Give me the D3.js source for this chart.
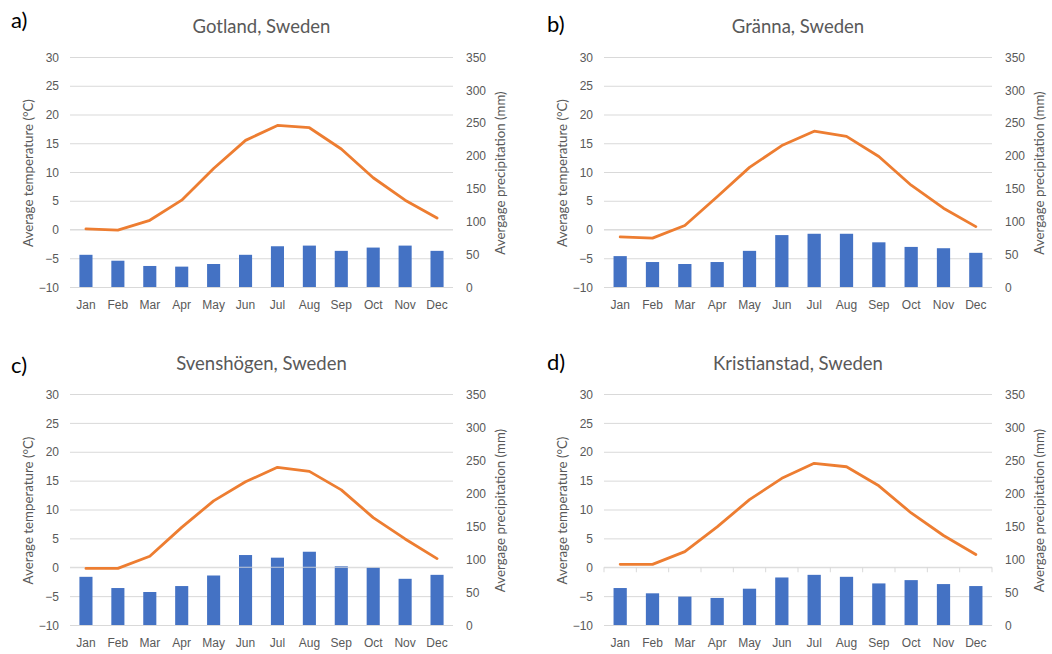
<!DOCTYPE html>
<html>
<head>
<meta charset="utf-8">
<script src="https://cdn.jsdelivr.net/npm/d3@7"></script>
<style>
  html, body { margin: 0; padding: 0; background: #fff; }
  svg { display: block; font-family: Lato, "Open Sans", sans-serif; }
</style>
</head>
<body>
<svg id="chart" width="1052" height="654"></svg>
<script>
// Monthly climate normals for four Swedish stations
const months = ["Jan","Feb","Mar","Apr","May","Jun","Jul","Aug","Sep","Oct","Nov","Dec"];

const tempTicks = [-10, -5, 0, 5, 10, 15, 20, 25, 30];
const precipTicks = [0, 50, 100, 150, 200, 250, 300, 350];

const gotlandTemp   = [0.1, -0.1, 1.6, 5.1, 10.6, 15.5, 18.1, 17.7, 14.0, 9.0, 5.1, 2.0];
const gotlandPrecip = [49, 40, 32, 31, 35, 49, 62, 63, 55, 60, 63, 55];

const grannaTemp   = [-1.3, -1.5, 0.7, 5.7, 10.8, 14.6, 17.1, 16.2, 12.7, 7.7, 3.7, 0.5];
const grannaPrecip = [47, 38, 35, 38, 55, 79, 81, 81, 68, 61, 59, 52];

const svenshogenTemp   = [-0.2, -0.2, 1.9, 6.9, 11.5, 14.8, 17.3, 16.6, 13.4, 8.6, 4.9, 1.5];
const svenshogenPrecip = [73, 56, 50, 59, 75, 106, 102, 111, 89, 87, 70, 76];

const kristianstadTemp   = [0.5, 0.5, 2.7, 7.0, 11.7, 15.4, 18.0, 17.4, 14.1, 9.4, 5.5, 2.2];
const kristianstadPrecip = [56, 48, 43, 41, 55, 72, 76, 73, 63, 68, 62, 59];

const panels = [
  { tag: "a)", title: "Gotland, Sweden",      temp: gotlandTemp,      precip: gotlandPrecip,      x0: 70,  x1: 453, y0: 57,  y1: 287, tagX: 11,  tagY: 28,  ticks: false },
  { tag: "b)", title: "Gr\u00e4nna, Sweden",  temp: grannaTemp,       precip: grannaPrecip,       x0: 604, x1: 992, y0: 57,  y1: 287, tagX: 547, tagY: 32,  ticks: false },
  { tag: "c)", title: "Svensh\u00f6gen, Sweden", temp: svenshogenTemp, precip: svenshogenPrecip,  x0: 70,  x1: 453, y0: 394, y1: 625, tagX: 11,  tagY: 373, ticks: false },
  { tag: "d)", title: "Kristianstad, Sweden", temp: kristianstadTemp, precip: kristianstadPrecip, x0: 604, x1: 992, y0: 394, y1: 625, tagX: 547, tagY: 370, ticks: true }
];

const svg = d3.select("#chart");
const grid = "#d9d9d9", textGrey = "#595959", barBlue = "#4472c4", lineOrange = "#ed7d31";

panels.forEach(p => {
  const g = svg.append("g");

  const x = d3.scaleBand().domain(months).range([p.x0, p.x1]).paddingInner(0.59).paddingOuter(0.295);
  const yT = d3.scaleLinear().domain([-10, 30]).range([p.y1, p.y0]);
  const yP = d3.scaleLinear().domain([0, 350]).range([p.y1, p.y0]);
  const cx = m => x(m) + x.bandwidth() / 2;

  // horizontal gridlines on the temperature scale
  g.append("g")
    .attr("transform", `translate(${p.x0},0)`)
    .call(d3.axisLeft(yT).tickValues(tempTicks).tickSize(-(p.x1 - p.x0)).tickFormat(""))
    .call(a => a.select(".domain").remove())
    .call(a => a.selectAll("line").attr("stroke", grid).attr("stroke-width", 1));

  // precipitation bars
  g.append("g").selectAll("rect")
    .data(p.precip)
    .join("rect")
    .attr("x", (d, i) => x(months[i]))
    .attr("width", x.bandwidth())
    .attr("y", d => yP(d))
    .attr("height", d => yP(0) - yP(d))
    .attr("fill", barBlue);

  // category axis line crossing at 0 °C
  const catAxis = g.append("g")
    .attr("transform", `translate(0,${yT(0)})`);
  catAxis.append("line")
    .attr("x1", p.x0).attr("x2", p.x1)
    .attr("stroke", grid).attr("stroke-opacity", 0.85).attr("stroke-width", 1);
  if (p.ticks) {
    const edges = months.map(m => x(m) - x.step() * x.paddingInner() / 2).concat([p.x1]);
    catAxis.selectAll(".tk").data(edges).join("line")
      .attr("class", "tk")
      .attr("x1", d => d).attr("x2", d => d)
      .attr("y1", 0).attr("y2", 5)
      .attr("stroke", grid).attr("stroke-width", 1);
  }

  // temperature line
  g.append("path")
    .datum(p.temp)
    .attr("fill", "none")
    .attr("stroke", lineOrange)
    .attr("stroke-width", 2.8)
    .attr("stroke-linejoin", "round")
    .attr("stroke-linecap", "round")
    .attr("d", d3.line().x((d, i) => cx(months[i])).y(d => yT(d)));

  // left value axis
  g.append("g")
    .attr("transform", `translate(${p.x0 - 11},0)`)
    .call(d3.axisLeft(yT).tickValues(tempTicks).tickSize(0).tickPadding(0))
    .call(a => a.select(".domain").remove())
    .call(a => a.selectAll("text").attr("fill", textGrey).style("font-size", "12px").attr("dy", "0.35em"));

  // right value axis
  g.append("g")
    .attr("transform", `translate(${p.x1 + 13},0)`)
    .call(d3.axisRight(yP).tickValues(precipTicks).tickSize(0).tickPadding(0))
    .call(a => a.select(".domain").remove())
    .call(a => a.selectAll("text").attr("fill", textGrey).style("font-size", "12px").attr("dy", "0.35em"));

  // month labels
  g.append("g")
    .attr("transform", `translate(0,${p.y1 + 11})`)
    .call(d3.axisBottom(x).tickSize(0).tickPadding(0))
    .call(a => a.select(".domain").remove())
    .call(a => a.selectAll("text").attr("fill", textGrey).style("font-size", "12px").attr("dy", "0.9em"));

  const midY = (p.y0 + p.y1) / 2 + 1;
  g.append("text")
    .attr("transform", `translate(${p.x0 - 37.5},${midY}) rotate(-90)`)
    .attr("text-anchor", "middle")
    .attr("fill", textGrey)
    .style("font-size", "13.3px")
    .text("Average temperature (\u00b0C)");

  g.append("text")
    .attr("transform", `translate(${p.x1 + 52},${midY}) rotate(-90)`)
    .attr("text-anchor", "middle")
    .attr("fill", textGrey)
    .style("font-size", "13.3px")
    .text("Avergage precipitation (mm)");

  // panel title and letter
  g.append("text")
    .attr("x", (p.x0 + p.x1) / 2)
    .attr("y", p.y0 - 24)
    .attr("text-anchor", "middle")
    .attr("fill", textGrey)
    .style("font-size", "18.5px")
    .text(p.title);

  g.append("text")
    .attr("x", p.tagX)
    .attr("y", p.tagY)
    .attr("fill", "#000")
    .style("font-size", "22px")
    .text(p.tag);
});
</script>
</body>
</html>
